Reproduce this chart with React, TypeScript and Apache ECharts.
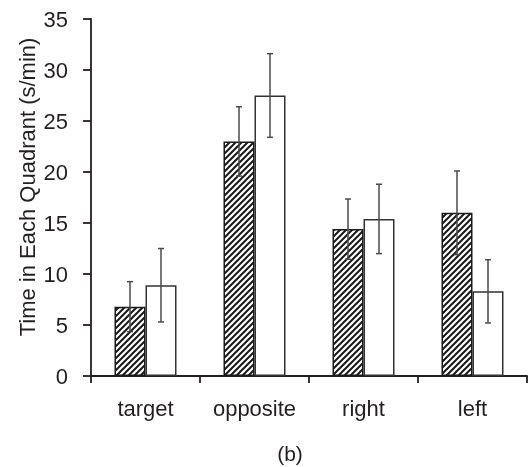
import React, { useEffect, useRef } from "react";
import * as echarts from "echarts";

const categories = ["target", "opposite", "right", "left"];
const hatchedValues = [6.8, 23.0, 14.4, 16.0];
const hatchedErrors = [2.45, 3.4, 2.95, 4.1];
const openValues = [8.9, 27.5, 15.4, 8.3];
const openErrors = [3.6, 4.1, 3.4, 3.1];
const yMin = 0;
const yMax = 35;
const yInterval = 5;
const yTitle = "Time in Each Quadrant (s/min)";
const caption = "(b)";

const BAR_W = 31;
const TEXT = "#231f20";
const FONT = "Liberation Sans, Arial, sans-serif";

function makeHatch() {
  const s = 6;
  const c = document.createElement("canvas");
  c.width = s;
  c.height = s;
  const ctx = c.getContext("2d")!;
  ctx.fillStyle = "#ffffff";
  ctx.fillRect(0, 0, s, s);
  ctx.strokeStyle = "#1a1a1a";
  ctx.lineWidth = 2;
  ctx.beginPath();
  ctx.moveTo(-1, s + 1);
  ctx.lineTo(s + 1, -1);
  ctx.moveTo(-1, 1);
  ctx.lineTo(1, -1);
  ctx.moveTo(s - 1, s + 1);
  ctx.lineTo(s + 1, s - 1);
  ctx.stroke();
  return { image: c, repetition: "repeat", imageWidth: s, imageHeight: s };
}

export default function App() {
  const ref = useRef<HTMLDivElement>(null);
  useEffect(() => {
    document.body.style.margin = "0";
    const chart = echarts.init(ref.current!, null, { renderer: "svg" });
    const errData: number[][] = [];
    categories.forEach((_, i) => {
      errData.push([i, hatchedValues[i], hatchedErrors[i], -1]);
      errData.push([i, openValues[i], openErrors[i], 1]);
    });
    chart.setOption({
      animation: false,
      grid: { left: 91, right: 2, top: 19, bottom: 91 },
      xAxis: {
        type: "category",
        data: categories,
        axisLine: { lineStyle: { color: TEXT, width: 1.8 } },
        axisTick: { show: true, length: 7, inside: false, lineStyle: { color: TEXT, width: 1.8 } },
        axisLabel: { color: TEXT, fontSize: 22, fontFamily: FONT, margin: 21 },
      },
      yAxis: {
        type: "value",
        min: yMin,
        max: yMax,
        interval: yInterval,
        splitLine: { show: false },
        axisLine: { show: true, lineStyle: { color: TEXT, width: 1.8 } },
        axisTick: { show: true, length: 8, lineStyle: { color: TEXT, width: 1.8 } },
        axisLabel: { color: TEXT, fontSize: 22, fontFamily: FONT, margin: 23 },
      },
      graphic: [
        {
          type: "text",
          x: 27,
          y: 187,
          rotation: Math.PI / 2,
          style: {
            text: yTitle,
            fill: TEXT,
            fontSize: 22,
            fontFamily: FONT,
            align: "center",
            verticalAlign: "middle",
          },
        },
        {
          type: "text",
          x: 290,
          y: 453,
          style: {
            text: caption,
            fill: TEXT,
            fontSize: 21,
            fontFamily: FONT,
            align: "center",
            verticalAlign: "middle",
          },
        },
      ],
      series: [
        {
          type: "bar",
          data: hatchedValues,
          barWidth: BAR_W,
          barGap: "0%",
          itemStyle: { color: makeHatch(), borderColor: "#1a1a1a", borderWidth: 1.5 },
        },
        {
          type: "bar",
          data: openValues,
          barWidth: BAR_W,
          barGap: "0%",
          itemStyle: { color: "#ffffff", borderColor: "#333333", borderWidth: 1.5 },
        },
        {
          type: "custom",
          data: errData,
          encode: { x: 0, y: 1 },
          z: 10,
          renderItem: (params: any, api: any) => {
            const c = api.value(0);
            const v = api.value(1);
            const e = api.value(2);
            const side = api.value(3);
            const x = api.coord([c, v])[0] + (side * BAR_W) / 2;
            const yt = api.coord([c, v + e])[1];
            const yb = api.coord([c, v - e])[1];
            const st = { stroke: "#4a4a4a", lineWidth: 1.5 };
            const cap = 3;
            return {
              type: "group",
              children: [
                { type: "line", shape: { x1: x, y1: yt, x2: x, y2: yb }, style: st },
                { type: "line", shape: { x1: x - cap, y1: yt, x2: x + cap, y2: yt }, style: st },
                { type: "line", shape: { x1: x - cap, y1: yb, x2: x + cap, y2: yb }, style: st },
              ],
            };
          },
        },
      ],
    });
    return () => chart.dispose();
  }, []);
  return <div ref={ref} style={{ position: "fixed", left: 0, top: 0, width: 529, height: 467 }} />;
}
